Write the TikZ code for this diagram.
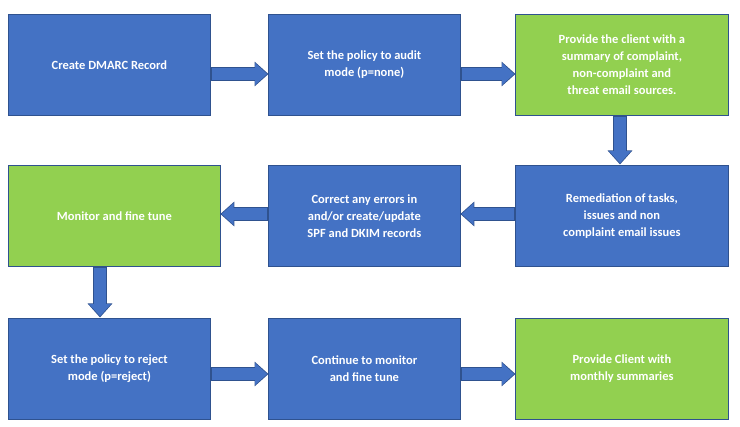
\documentclass[tikz,border=0pt]{standalone}
\usepackage{fontspec}
\setmainfont{Carlito}
\usetikzlibrary{arrows.meta}
\definecolor{bblue}{HTML}{4472C4}
\definecolor{bgreen}{HTML}{92D050}
\definecolor{bedge}{HTML}{2F528F}
\tikzset{
  box/.style={draw=bedge, line width=0.8pt, minimum height=101pt, text=white, font=\bfseries\fontsize{12.5}{17}\selectfont, align=center, inner sep=0pt, anchor=north west},
  bluebox/.style={box, fill=bblue},
  greenbox/.style={box, fill=bgreen},
  arrowedge/.style={line width=13.6pt, bedge, -{Triangle[width=24pt,length=14pt]}, shorten >=-0.5pt},
  arrowfill/.style={line width=12pt, bblue, -{Triangle[width=21pt,length=12pt]}, shorten >=0.8pt, shorten <=0.8pt},
}
\newcommand{\blockarrow}[2]{\draw[arrowedge] (#1) -- (#2); \draw[arrowfill] (#1) -- (#2);}
\begin{document}
\begin{tikzpicture}[x=1pt,y=-1pt]
\useasboundingbox (0,0) rectangle (740,427);
\node[bluebox, minimum width=202pt] (a) at (8,14) {Create DMARC Record};
\node[bluebox, minimum width=192pt] (b) at (268,14) {Set the policy to audit\\mode (p=none)};
\node[greenbox, minimum width=213pt] (c) at (515,14) {Provide the client with a\\summary of complaint,\\non-complaint and\\threat email sources.};
\node[greenbox, minimum width=212pt] (f) at (8,165) {Monitor and fine tune};
\node[bluebox, minimum width=192pt] (e) at (268,165) {Correct any errors in\\and/or create/update\\SPF and DKIM records};
\node[bluebox, minimum width=213pt] (d) at (515,165) {Remediation of tasks,\\issues and non\\complaint email issues};
\node[bluebox, minimum width=202pt] (g) at (8,318) {Set the policy to reject\\mode (p=reject)};
\node[bluebox, minimum width=192pt] (h) at (268,318) {Continue to monitor\\and fine tune};
\node[greenbox, minimum width=213pt] (i) at (515,318) {Provide Client with\\monthly summaries};
\coordinate (d1) at (620,116);
\coordinate (d2) at (620,164);
\coordinate (v1) at (100,267);
\coordinate (v2) at (100,317);
\blockarrow{a.east|-0,74}{b.west|-0,74}
\blockarrow{b.east|-0,74}{c.west|-0,74}
\blockarrow{d1}{d2}
\blockarrow{d.west|-0,214}{e.east|-0,214}
\blockarrow{e.west|-0,214}{f.east|-0,214}
\blockarrow{v1}{v2}
\blockarrow{g.east|-0,374}{h.west|-0,374}
\blockarrow{h.east|-0,374}{i.west|-0,374}
\end{tikzpicture}
\end{document}
